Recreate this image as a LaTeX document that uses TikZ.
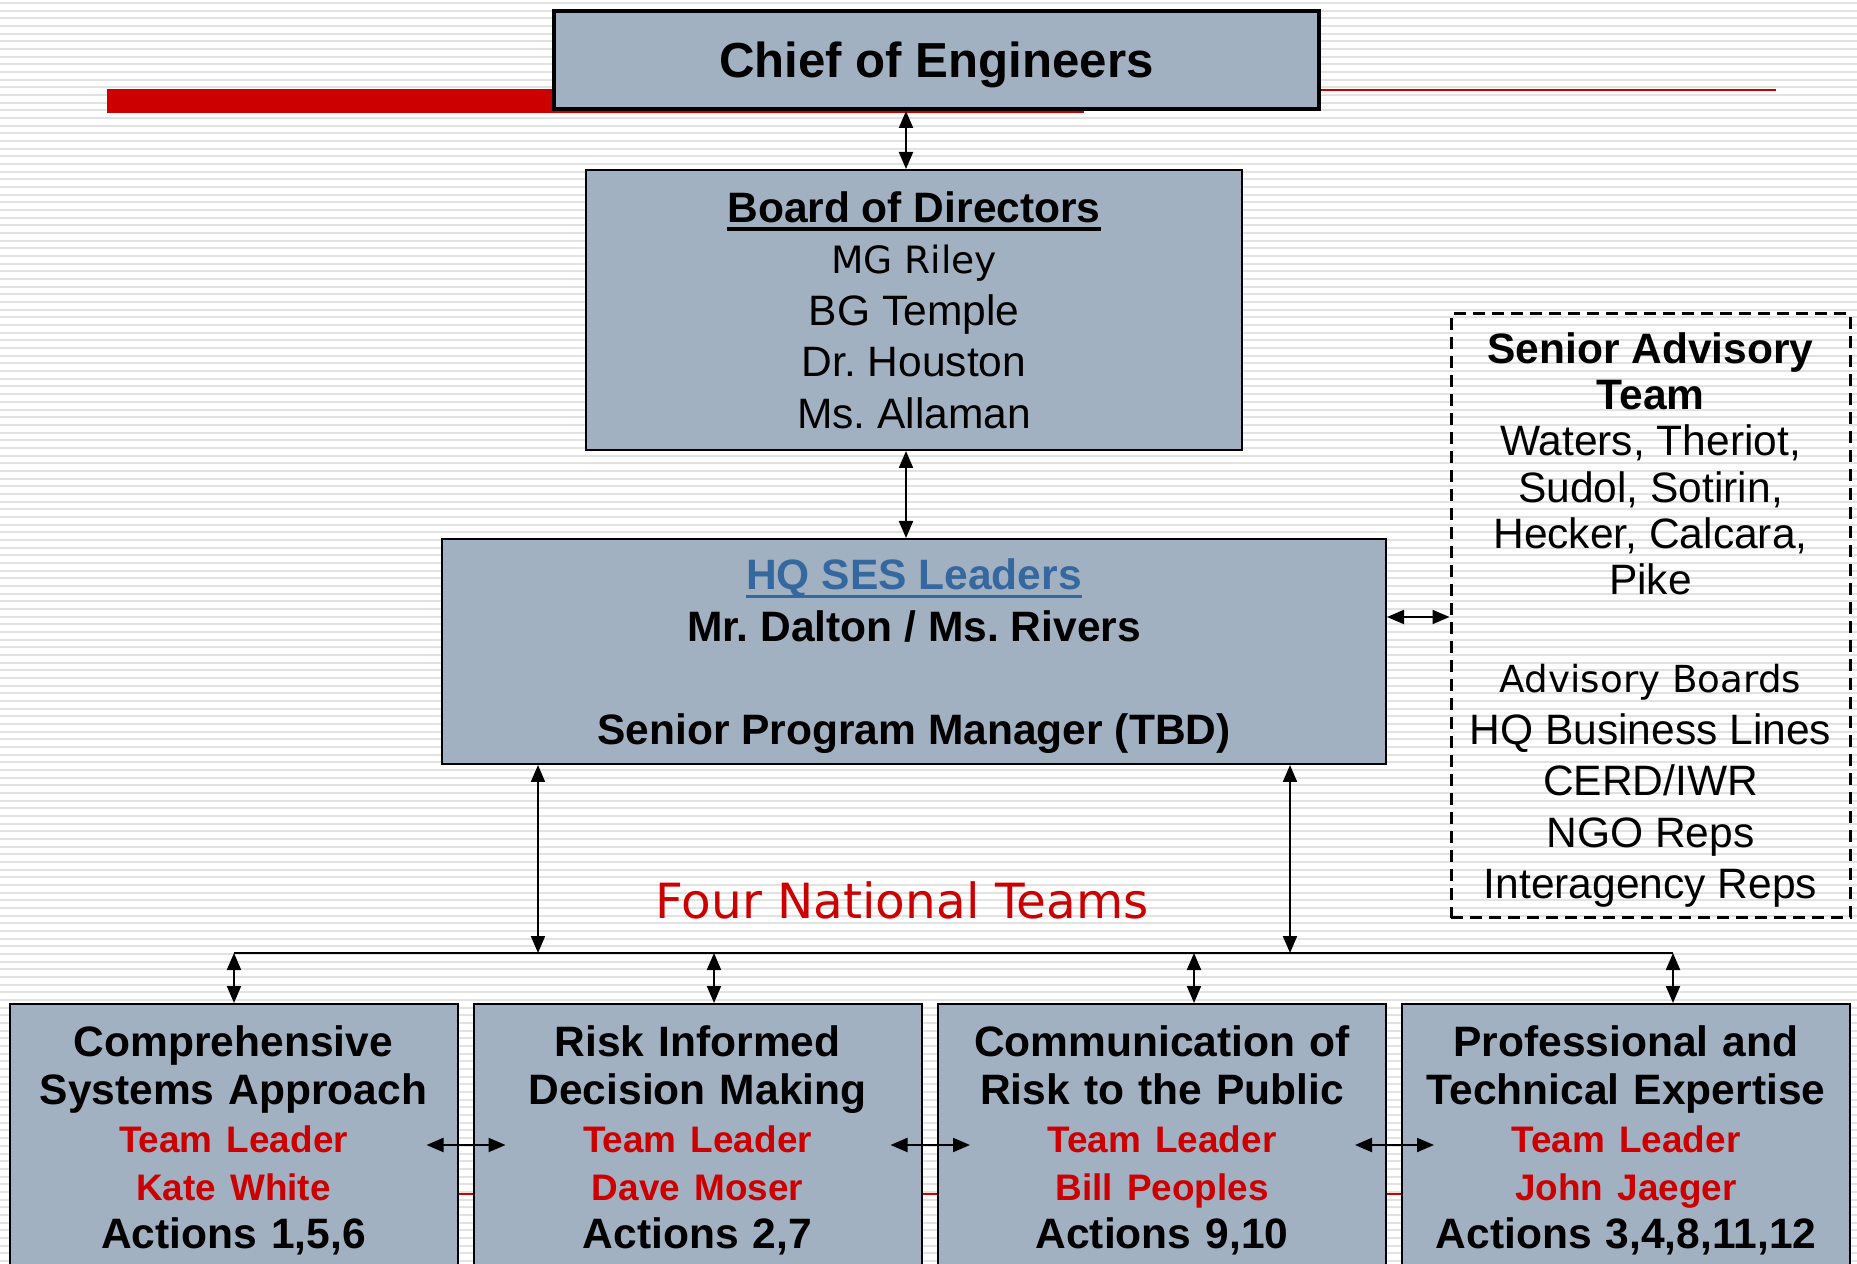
\documentclass[tikz,border=0pt]{standalone}
\usepackage{fontspec}
\setmainfont{Liberation Sans}
\newfontfamily\tahoma{DejaVu Sans}
\usetikzlibrary{arrows.meta,calc}
\definecolor{boxfill}{RGB}{162,177,193}
\definecolor{slidered}{RGB}{204,0,0}
\definecolor{sesblue}{RGB}{54,104,160}
\definecolor{stripe}{RGB}{226,226,226}
\newcommand{\lead}[1]{\textcolor{slidered}{\fontsize{10.5}{13.66}\selectfont #1}}
\newcommand{\ulbar}[1]{\setbox0\hbox{#1}\rlap{\rule[-0.85mm]{\wd0}{0.35mm}}\box0}
\frenchspacing
\begin{document}
\begin{tikzpicture}[x=0.1mm, y=-0.1mm, line width=0.2mm,
        box/.style = {draw, fill=boxfill, align=center, inner sep=0pt},
        team/.style = {box, anchor=north, text width=44.8mm, inner ysep=2.2mm, font=\bfseries\fontsize{12.1}{13.66}\selectfont},
        dbl/.style = {{Triangle[length=1.7mm,width=1.4mm]}-{Triangle[length=1.7mm,width=1.4mm]}}]
            \useasboundingbox (0,0) rectangle (1857,1264);
            \fill[white] (0,0) rectangle (1857,1264);
            \foreach \k in {0,...,164}
                \draw[stripe] (0,{3+\k*7.67}) -- (1857,{3+\k*7.67});
            \fill[slidered] (107,89) rectangle (1084,113);
            \draw[slidered] (1084,90) -- (1776,90);
            \draw[slidered, line width=0.15mm] (107,1194) -- (1776,1194);
            \node[box, line width=0.4mm, minimum width=76.5mm, minimum height=9.8mm, text depth=0pt, font=\bfseries\fontsize{14}{17}\selectfont] (chief) at (936.5,60) {Chief of Engineers};
            \node[box, minimum width=65.6mm, minimum height=28mm, font=\fontsize{12.1}{14.65}\selectfont] (board) at (914,310) {\textbf{\ulbar{Board of Directors}}\\ \tahoma\fontsize{10.7}{14.65}\selectfont MG Riley\\ BG Temple\\ Dr. Houston\\ Ms. Allaman};
            \node[box, minimum width=94.4mm, minimum height=22.5mm, text depth=0pt, font=\bfseries\fontsize{12.1}{14.65}\selectfont] (hq) at (914,651.5) {\textcolor{sesblue}{\ulbar{HQ SES Leaders}}\\ Mr. Dalton / Ms. Rivers\\[5.15mm] Senior Program Manager (TBD)};
            \node[draw, dashed, line width=0.3mm, dash pattern=on 1.2mm off 0.7mm, minimum width=39.9mm, minimum height=60.4mm, align=center, inner sep=0pt, text depth=0pt, font=\fontsize{12.1}{13.1}\selectfont] (sat) at (1650.5,616) {\textbf{Senior Advisory}\\ \textbf{Team}\\ Waters, Theriot,\\ Sudol, Sotirin,\\ Hecker, Calcara,\\ Pike\\[5.26mm] \tahoma\fontsize{10.6}{13.1}\selectfont Advisory Boards\\[0.55mm] HQ Business Lines\\[0.55mm] CERD/IWR\\[0.55mm] NGO Reps\\[0.55mm] Interagency Reps};
            \node[text=slidered, font=\tahoma\fontsize{13.8}{16}\selectfont] (fnt) at (902,900) {Four National Teams};
            \node[team] (t1) at (233.5,1003) {Comprehensive\\ Systems Approach\\ \lead{Team Leader}\\ \lead{Kate White}\\ Actions 1,5,6\rule[-30mm]{0pt}{30mm}};
            \node[team] (t2) at (697.5,1003) {Risk Informed\\ Decision Making\\ \lead{Team Leader}\\ \lead{Dave Moser}\\ Actions 2,7\rule[-30mm]{0pt}{30mm}};
            \node[team] (t3) at (1162,1003) {Communication of\\ Risk to the Public\\ \lead{Team Leader}\\ \lead{Bill Peoples}\\ Actions 9,10\rule[-30mm]{0pt}{30mm}};
            \node[team] (t4) at (1626,1003) {Professional and\\ Technical Expertise\\ \lead{Team Leader}\\ \lead{John Jaeger}\\ Actions 3,4,8,11,12\rule[-30mm]{0pt}{30mm}};
            \coordinate (spine) at (906,0);
            \coordinate (sa) at (0,617);
            \coordinate (row) at (0,1145);
            \coordinate (hl) at (538,953);
            \coordinate (hr) at (1290,953);
            \coordinate (b1) at (234,953);
            \coordinate (b2) at (714,953);
            \coordinate (b3) at (1194,953);
            \coordinate (b4) at (1673,953);
            \draw[dbl] (chief.south -| spine) -- (board.north -| spine);
            \draw[dbl] (board.south -| spine) -- (hq.north -| spine);
            \draw[dbl] (hq.east |- sa) -- (sat.west |- sa);
            \draw[dbl] (hq.south -| hl) -- (hl);
            \draw[dbl] (hq.south -| hr) -- (hr);
            \draw (b1) -- (b4);
            \foreach \i in {1,...,4}
                \draw[dbl] (b\i) -- (t\i.north -| b\i);
            \draw[dbl] ($(t1.east |- row)+(-32,0)$) -- ($(t2.west |- row)+(33,0)$);
            \draw[dbl] ($(t2.east |- row)+(-32,0)$) -- ($(t3.west |- row)+(33,0)$);
            \draw[dbl] ($(t3.east |- row)+(-32,0)$) -- ($(t4.west |- row)+(33,0)$);
        \end{tikzpicture}
\end{document}
